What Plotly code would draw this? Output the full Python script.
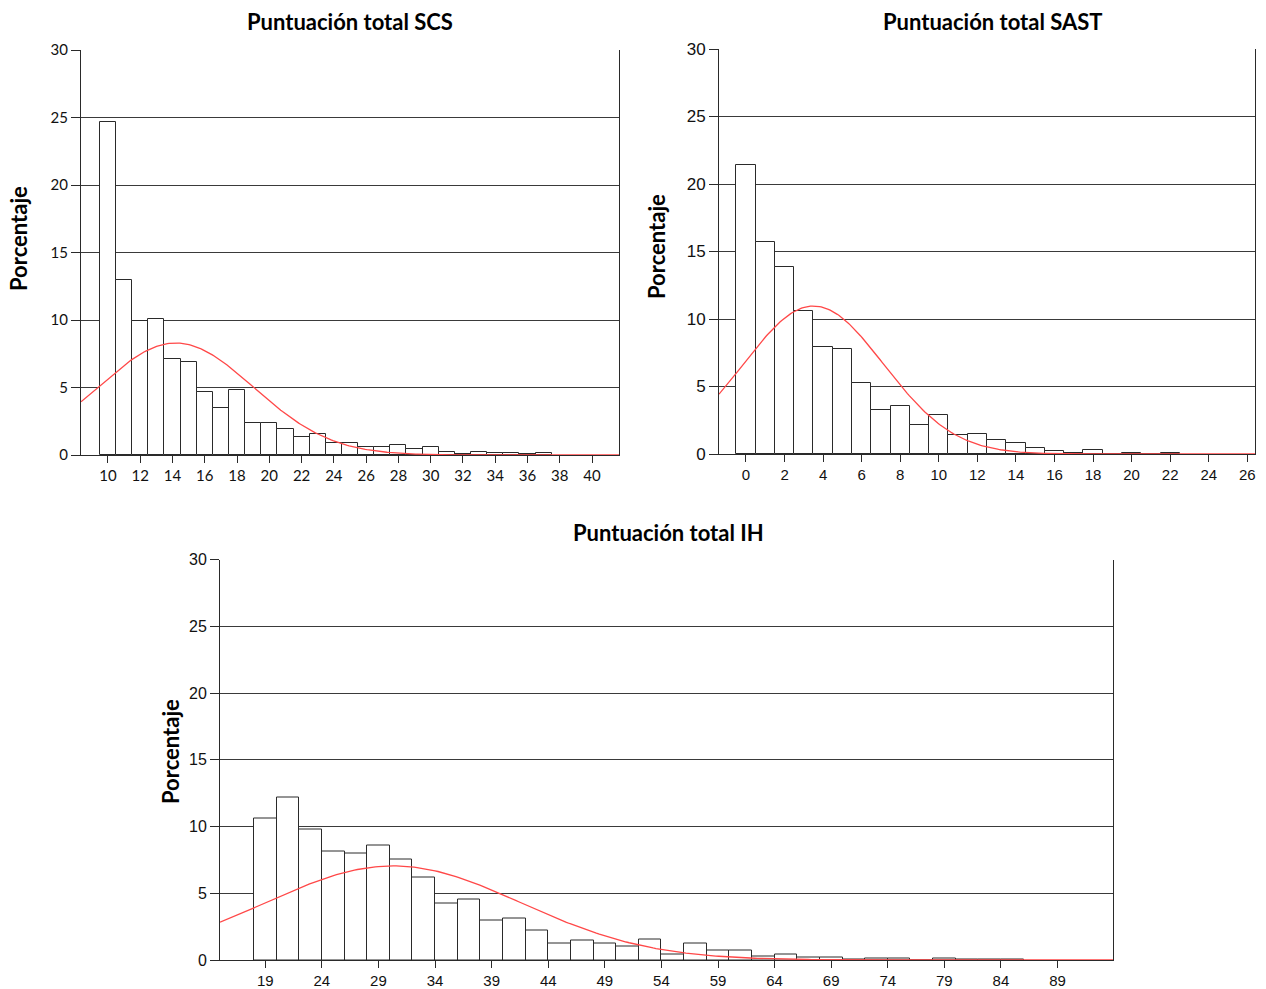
import numpy as np
import plotly.graph_objects as go

# ---------------- data ----------------
scs_x = list(range(10, 38))
scs_pct = [24.7, 13.0, 9.95, 10.05, 7.1, 6.9, 4.7, 3.5, 4.85, 2.4, 2.4, 1.95, 1.36, 1.53,
           0.92, 0.92, 0.62, 0.57, 0.72, 0.42, 0.57, 0.25, 0.1, 0.2, 0.12, 0.12, 0.07, 0.15]
scs_mean, scs_sd = 14.2, 4.81
scs_ticks = list(range(10, 41, 2))

sast_x = list(range(0, 23))
sast_pct = [21.44, 15.67, 13.87, 10.58, 7.9, 7.8, 5.26, 3.23, 3.58, 2.12, 2.89, 1.4,
            1.46, 1.01, 0.84, 0.42, 0.25, 0.1, 0.3, 0.0, 0.07, 0.0, 0.07]
sast_mean, sast_sd = 3.5, 3.64
sast_ticks = list(range(0, 27, 2))

ih_x = list(range(19, 87, 2))
ih_pct = [10.58, 12.15, 9.76, 8.14, 7.96, 8.58, 7.54, 6.19, 4.24, 4.5, 2.93, 3.13, 2.18,
          1.25, 1.45, 1.25, 0.98, 1.55, 0.43, 1.25, 0.68, 0.68, 0.28, 0.4, 0.2, 0.2,
          0.05, 0.15, 0.15, 0.0, 0.15, 0.05, 0.05, 0.05]
ih_mean, ih_sd = 30.3, 11.32
ih_binwidth = 2
ih_ticks = list(range(19, 90, 5))

y_ticks = [0, 5, 10, 15, 20, 25, 30]
titles = ["Puntuación total SCS", "Puntuación total SAST", "Puntuación total IH"]
ylabel = "Porcentaje"

# ---------------- figure ----------------
W, H = 1266, 989
def px(x): return x / W
def py(y): return 1 - y / H

def normal_curve(lo, hi, mean, sd, bw):
    xs = np.linspace(lo, hi, 300)
    ys = 100 * bw * np.exp(-0.5 * ((xs - mean) / sd) ** 2) / (sd * np.sqrt(2 * np.pi))
    return xs, ys

panels = [
    dict(x=scs_x, y=scs_pct, mean=scs_mean, sd=scs_sd, bw=1, rng=[8.33, 41.67], ticks=scs_ticks,
         dom_x=[px(81), px(619)], dom_y=[py(455), py(50)],
         tfont=dict(family="Lato, sans-serif", size=15, color="#111"),
         yfont=dict(family="Lato, sans-serif", size=15, color="#111")),
    dict(x=sast_x, y=sast_pct, mean=sast_mean, sd=sast_sd, bw=1, rng=[-1.4, 26.4], ticks=sast_ticks,
         dom_x=[px(719), px(1255)], dom_y=[py(454), py(49)],
         tfont=dict(family="Liberation Sans, Arial, sans-serif", size=15, color="#111"),
         yfont=dict(family="Liberation Sans, Arial, sans-serif", size=17, color="#111")),
    dict(x=ih_x, y=ih_pct, mean=ih_mean, sd=ih_sd, bw=ih_binwidth, rng=[15, 93.9], ticks=ih_ticks,
         dom_x=[px(220), px(1113)], dom_y=[py(960), py(559.5)],
         tfont=dict(family="Liberation Sans, Arial, sans-serif", size=15, color="#111"),
         yfont=dict(family="Liberation Sans, Arial, sans-serif", size=16, color="#111")),
]

fig = go.Figure()
layout = dict(width=W, height=H, margin=dict(l=0, r=0, t=0, b=0, pad=0, autoexpand=False),
              paper_bgcolor="white", plot_bgcolor="white", showlegend=False, bargap=0)

for i, p in enumerate(panels, start=1):
    xa = "x" if i == 1 else f"x{i}"
    ya = "y" if i == 1 else f"y{i}"
    fig.add_trace(go.Bar(x=p["x"], y=p["y"], width=p["bw"], xaxis=xa, yaxis=ya,
                         marker=dict(color="white", line=dict(color="#2a2a2a", width=1))))
    cx, cy = normal_curve(p["rng"][0], p["rng"][1], p["mean"], p["sd"], p["bw"])
    fig.add_trace(go.Scatter(x=cx, y=cy, mode="lines", xaxis=xa, yaxis=ya,
                             line=dict(color="#ff4848", width=1.3), hoverinfo="skip"))
    xkey = "xaxis" if i == 1 else f"xaxis{i}"
    ykey = "yaxis" if i == 1 else f"yaxis{i}"
    layout[xkey] = dict(domain=p["dom_x"], anchor=ya, range=p["rng"], tickmode="array",
                        tickvals=p["ticks"], ticktext=[str(t) for t in p["ticks"]],
                        showgrid=False, zeroline=False, showline=True, linecolor="#2a2a2a",
                        linewidth=1, ticks="outside", ticklen=7, tickcolor="#2a2a2a",
                        tickfont=p["tfont"], ticklabelstandoff=0, automargin=False,
                        fixedrange=True)
    layout[ykey] = dict(domain=p["dom_y"], anchor=xa, range=[0, 30], tickmode="array",
                        tickvals=y_ticks, showgrid=True, gridcolor="#3a3a3a", gridwidth=1,
                        zeroline=False, showline=True, mirror=True, linecolor="#2a2a2a",
                        linewidth=1, ticks="outside", ticklen=9, tickcolor="#2a2a2a",
                        tickfont=p["yfont"], ticklabelstandoff=0, automargin=False,
                        fixedrange=True)

def ann(text, x, y, size, angle=0):
    return dict(text="<b>" + text + "</b>", x=px(x), y=py(y), xref="paper", yref="paper",
                xanchor="center", yanchor="middle", textangle=angle, showarrow=False,
                font=dict(family="Lato, sans-serif", size=size, color="#000"))

layout["annotations"] = [
    ann(titles[0], 350, 22, 22),
    ann(titles[1], 993, 22, 22),
    ann(titles[2], 668, 532, 22),
    ann(ylabel, 19, 239, 22, -90),
    ann(ylabel, 656, 246, 22, -90),
    ann(ylabel, 170, 752, 22, -90),
]

fig.update_layout(**layout)
fig.write_html("out.html")
